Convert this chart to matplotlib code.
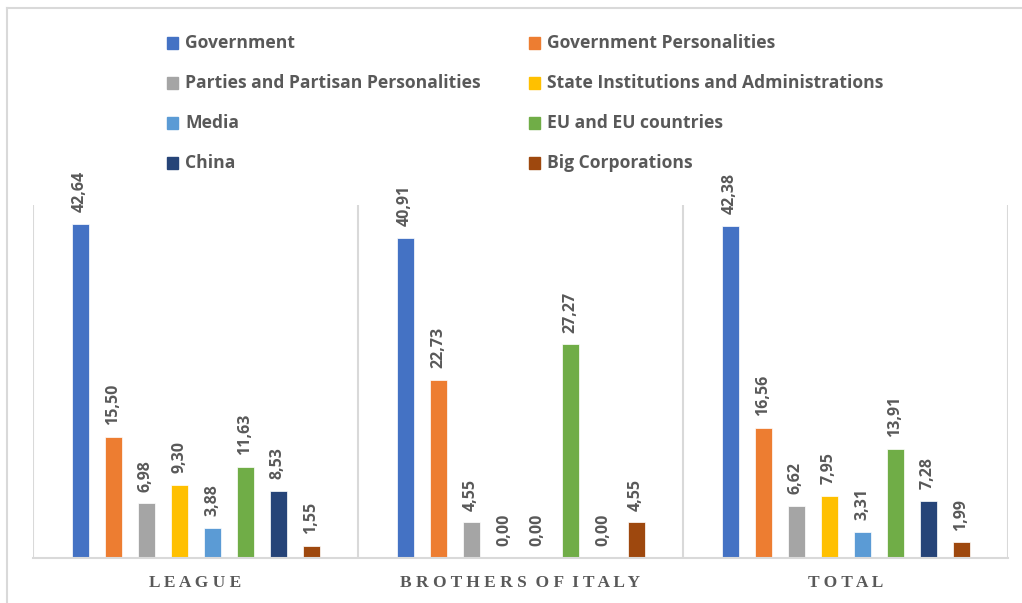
import matplotlib.pyplot as plt
from matplotlib.patches import Rectangle
from matplotlib.lines import Line2D

groups = ['LEAGUE', 'BROTHERS OF ITALY', 'TOTAL']
series = ['Government', 'Government Personalities',
          'Parties and Partisan Personalities', 'State Institutions and Administrations',
          'Media', 'EU and EU countries', 'China', 'Big Corporations']
colors = ['#4472C4', '#ED7D31', '#A5A5A5', '#FFC000',
          '#5B9BD5', '#70AD47', '#264478', '#9E480E']
values = [
    [42.64, 40.91, 42.38],   # Government
    [15.50, 22.73, 16.56],   # Government Personalities
    [6.98, 4.55, 6.62],      # Parties and Partisan Personalities
    [9.30, 0.00, 7.95],      # State Institutions and Administrations
    [3.88, 0.00, 3.31],      # Media
    [11.63, 27.27, 13.91],   # EU and EU countries
    [8.53, 0.00, 7.28],      # China
    [1.55, 4.55, 1.99],      # Big Corporations
]

W, H = 1022, 603
fig = plt.figure(figsize=(W / 100, H / 100), dpi=100)
txt = '#595959'
grid = '#D9D9D9'

# outer chart border (top and left visible)
fig.add_artist(Line2D([7 / W, 7 / W], [0, 1 - 8 / H], color=grid, lw=1.5))
fig.add_artist(Line2D([7 / W, 1], [1 - 8 / H, 1 - 8 / H], color=grid, lw=1.5))

ax = fig.add_axes([33 / W, 45 / H, 975 / W, 391.6 / H])
pitch = 33 / 325
bw = 17 / 325
for j, (name, vals) in enumerate(zip(series, values)):
    xs = [g + (j - 3.5) * pitch for g in range(len(groups))]
    ax.bar(xs, vals, width=bw, color=colors[j], edgecolor='white', linewidth=0.5)
    for x, v in zip(xs, vals):
        ax.annotate(f'{v:.2f}'.replace('.', ','), (x, v), xytext=(0, 8.5),
                    textcoords='offset points', rotation=90, ha='center', va='bottom',
                    fontsize=11.5, fontweight='bold', color=txt, family='Open Sans',
                    annotation_clip=False)

ax.set_xlim(-0.5, 2.5)
ax.set_ylim(0, 50)
ax.vlines([-0.5, 0.5, 1.5, 2.5], 0, 45.1, color=grid, lw=1.5)
for s in ['top', 'right', 'left']:
    ax.spines[s].set_visible(False)
ax.spines['bottom'].set_color(grid)
ax.spines['bottom'].set_linewidth(1.5)
ax.set_yticks([])
ax.set_xticks(range(len(groups)))
ax.set_xticklabels([' '.join(g).replace('   ', '  ') for g in groups],
                   family='Liberation Serif', fontweight='bold', fontsize=12.5, color=txt)
ax.tick_params(axis='x', length=0, pad=12)

# legend, two columns
col_x = [167, 529]
row_y = [43, 83, 123, 163]
for i, name in enumerate(series):
    cx = col_x[i % 2]
    cy = row_y[i // 2]
    fig.add_artist(Rectangle((cx / W, 1 - (cy + 5.5) / H), 11 / W, 11 / H,
                             color=colors[i], transform=fig.transFigure))
    fig.text((cx + 18) / W, 1 - cy / H, name, ha='left', va='center',
             fontsize=12.6, fontweight='bold', color=txt, family='Open Sans')

fig.savefig('out.png', dpi=100)
